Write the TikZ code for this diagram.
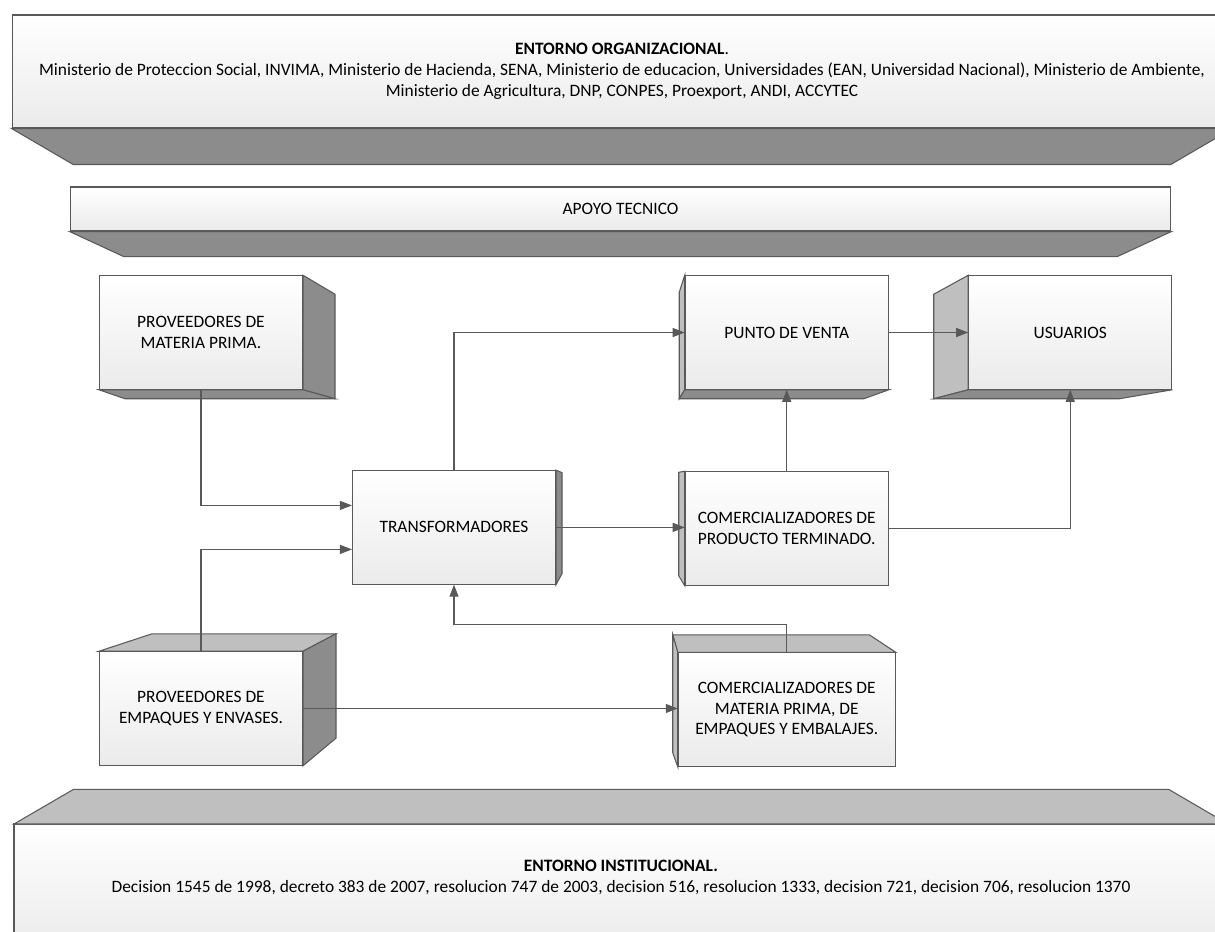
\documentclass[tikz,border=0pt]{standalone}
\usepackage{fontspec}
\setmainfont{Carlito}
\usetikzlibrary{arrows.meta,positioning,calc}
\definecolor{edgegray}{HTML}{595959}
\definecolor{darkface}{HTML}{8C8C8C}
\definecolor{lightface}{HTML}{BFBFBF}
\begin{document}
\begin{tikzpicture}[x=0.02cm,y=-0.02cm,
  boxfront/.style={draw=edgegray,rectangle,line width=0.6pt,top color=white,bottom color=black!8,align=center,minimum width=4.06cm,minimum height=2.27cm,inner sep=2pt,font=\fontsize{9.9}{11.9}\selectfont},
  banner/.style={boxfront,minimum width=24.4cm,minimum height=2.26cm},
  facedark/.style={draw=edgegray,fill=darkface,line width=0.6pt},
  facelight/.style={draw=edgegray,fill=lightface,line width=0.6pt},
  link/.style={draw=edgegray,line width=0.6pt,-{Triangle[length=0.24cm,width=0.18cm]}}]%
\useasboundingbox (0,0) rectangle (1215,931);%
\clip (0,0) rectangle (1215,931);%
\node[banner] (org) at (622,71.5) {\textbf{ENTORNO ORGANIZACIONAL}.\\Ministerio de Proteccion Social, INVIMA, Ministerio de Hacienda, SENA, Ministerio de educacion, Universidades (EAN, Universidad Nacional), Ministerio de Ambiente,\\Ministerio de Agricultura, DNP, CONPES, Proexport, ANDI, ACCYTEC};%
\filldraw[facedark] (org.south west) -- (org.south east) -- ++(-61.6,36) -- ($(org.south west)+(61.6,36)$) -- cycle;%
\node[banner,minimum width=22.02cm,minimum height=0.88cm] (apoyo) at (620.5,209) {APOYO TECNICO};%
\filldraw[facedark] (apoyo.south west) -- (apoyo.south east) -- ++(-54,25) -- ($(apoyo.south west)+(54,25)$) -- cycle;%
\node[boxfront] (mp) at (201,332.5) {PROVEEDORES DE\\MATERIA PRIMA.};%
\node[boxfront] (pv) at (786.75,332.5) {PUNTO DE VENTA};%
\node[boxfront,right=1.59cm of pv] (us) {USUARIOS};%
\node[boxfront] (tr) at (454,527.4) {TRANSFORMADORES};%
\node[boxfront,below=1.63cm of pv] (cpt) {COMERCIALIZADORES DE\\PRODUCTO TERMINADO.};%
\node[boxfront,below=5.23cm of mp] (pe) {PROVEEDORES DE\\EMPAQUES Y ENVASES.};%
\node[boxfront,minimum width=4.34cm,below=1.33cm of cpt] (cmp) {COMERCIALIZADORES DE\\MATERIA PRIMA, DE\\EMPAQUES Y EMBALAJES.};%
\filldraw[facedark] (mp.north east) -- ++(32,19) -- ($(mp.south east)+(32,9)$) -- (mp.south east) -- cycle;%
\filldraw[facedark] (mp.south west) -- (mp.south east) -- ++(32,9) -- ($(mp.south west)+(26,9)$) -- cycle;%
\filldraw[facelight] (pv.north west) -- ++(-5.5,17) -- ($(pv.south west)+(-5.5,9)$) -- (pv.south west) -- cycle;%
\filldraw[facedark] (pv.south west) -- (pv.south east) -- ++(-25,9) -- ($(pv.south west)+(-5.5,9)$) -- cycle;%
\filldraw[facelight] (us.north west) -- ++(-34.5,19) -- ($(us.south west)+(-34.5,9)$) -- (us.south west) -- cycle;%
\filldraw[facedark] (us.south west) -- (us.south east) -- ++(-53,9) -- ($(us.south west)+(-34.5,9)$) -- cycle;%
\filldraw[facedark] (tr.north east) -- ++(6,2.5) -- ($(tr.south east)+(6,-11)$) -- (tr.south east) -- cycle;%
\filldraw[facelight] (cpt.north west) -- ++(-6,1) -- ($(cpt.south west)+(-6,-10)$) -- (cpt.south west) -- cycle;%
\filldraw[facelight] (pe.north west) -- ++(53,-17.4) -- ($(pe.north east)+(33,-17.4)$) -- (pe.north east) -- cycle;%
\filldraw[facedark] (pe.north east) -- ++(33,-17.4) -- ($(pe.south east)+(33,-27.6)$) -- (pe.south east) -- cycle;%
\filldraw[facelight] (cmp.north west) -- ++(-5,-17.4) -- ($(cmp.north east)+(-26.3,-17.4)$) -- (cmp.north east) -- cycle;%
\filldraw[facelight] (cmp.north west) -- ++(-5,-17.4) -- ($(cmp.south west)+(-5,-14)$) -- (cmp.south west) -- cycle;%
\coordinate (inst-w) at (14,824);%
\coordinate (inst-e) at (1228,824);%
\draw[draw=edgegray,line width=0.6pt,top color=white,bottom color=black!11] (inst-w) rectangle ++(1214,176);%
\filldraw[facelight] (inst-w) -- ++(59.6,-34.7) -- ($(inst-e)+(-59.4,-34.7)$) -- (inst-e) -- cycle;%
\node[align=center,font=\fontsize{9.9}{11.9}\selectfont] (inst) at (621,877) {\textbf{ENTORNO INSTITUCIONAL.}\\Decision 1545 de 1998, decreto 383 de 2007, resolucion 747 de 2003, decision 516, resolucion 1333, decision 721, decision 706, resolucion 1370};%
\draw[link] (mp.south) |- ($(tr.west)+(0,-22)$);%
\draw[link] (pe.north) |- ($(tr.west)+(0,22)$);%
\draw[link] (tr.north) |- (pv.west);%
\draw[link] (tr.east) -- (tr.east -| cpt.west);%
\draw[link] (cpt.north) -- (pv.south);%
\draw[link] (cpt.east) -| (us.south);%
\draw[link] (pv.east) -- (us.west);%
\draw[link] (pe.east) -- (pe.east -| cmp.west);%
\draw[link] (cmp.north) -- ++(0,-27.4) -| (tr.south);%
\end{tikzpicture}
\end{document}
